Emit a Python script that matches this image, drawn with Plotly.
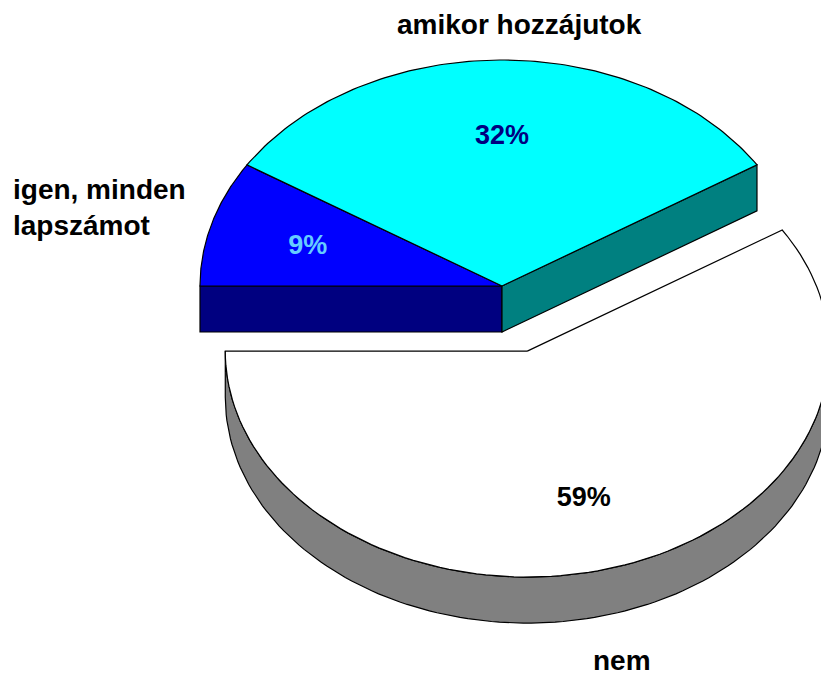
import numpy as np
import plotly.graph_objects as go

# ---- data ----
categories = ["igen, minden lapszámot", "amikor hozzájutok", "nem"]
values = [9, 32, 59]
pct_labels = ["9%", "32%", "59%"]
pull = [0.0, 0.0, 0.3]

# ---- styles ----
top_colors = ["#0000FF", "#00FFFF", "#FFFFFF"]
side_colors = ["#000080", "#008080", "#808080"]
pct_colors = ["#66CCFF", "#000080", "#000000"]

# ---- geometry (pixel space) ----
W, H = 821, 675
CX, CY = 502, 286      # centre of the top face
RX, RY = 302, 226      # ellipse radii
DEPTH = 46             # thickness of the pie
START = 180.0          # first slice starts at the left, goes clockwise
LABEL_R = 0.67
LABEL_DY = 3
FONT = "Liberation Sans, Arial, sans-serif"

total = float(sum(values))
fig = go.Figure()


def arc(cx, cy, a0, a1, dy=0.0, n=120):
    t = np.radians(np.linspace(a0, a1, n))
    return cx + RX * np.cos(t), cy - RY * np.sin(t) + dy


def poly(xs, ys, fill):
    fig.add_trace(go.Scatter(
        x=list(xs) + [xs[0]], y=list(ys) + [ys[0]], mode="lines",
        fill="toself", fillcolor=fill,
        line=dict(color="black", width=1.2),
        hoverinfo="skip", showlegend=False))


angles = []
a = START
for v in values:
    span = 360.0 * v / total
    angles.append((a, a - span))
    a -= span

n = len(values)
for i, (a0, a1) in enumerate(angles):
    mid = np.radians((a0 + a1) / 2)
    cx = CX + pull[i] * RX * np.cos(mid)
    cy = CY - pull[i] * RY * np.sin(mid)

    # radial faces facing the viewer, only at boundaries with exploded neighbours
    prev_i = (i - 1) % n
    next_i = (i + 1) % n
    if pull[prev_i] != pull[i] and np.cos(np.radians(a0)) < 0:
        ex, ey = arc(cx, cy, a0, a0, n=1)
        poly([cx, ex[0], ex[0], cx], [cy, ey[0], ey[0] + DEPTH, cy + DEPTH], side_colors[i])
    if pull[next_i] != pull[i] and np.cos(np.radians(a1)) > 0:
        ex, ey = arc(cx, cy, a1, a1, n=1)
        poly([cx, ex[0], ex[0], cx], [cy, ey[0], ey[0] + DEPTH, cy + DEPTH], side_colors[i])

    # curved outer side: the part of the arc on the front half
    lo, hi = min(a0, a1), max(a0, a1)
    segs = []
    for k in range(-2, 2):
        f0, f1 = 180 + 360 * k, 360 + 360 * k
        s0, s1 = max(lo, f0), min(hi, f1)
        if s1 > s0:
            segs.append((s0, s1))
    for s0, s1 in segs:
        tx, ty = arc(cx, cy, s1, s0)
        bx, by = arc(cx, cy, s0, s1, dy=DEPTH)
        poly(np.concatenate([tx, bx]), np.concatenate([ty, by]), side_colors[i])

    # top face
    tx, ty = arc(cx, cy, a0, a1)
    poly(np.concatenate([[cx], tx]), np.concatenate([[cy], ty]), top_colors[i])

    # percentage label
    fig.add_trace(go.Scatter(
        x=[cx + LABEL_R * RX * np.cos(mid)],
        y=[cy - LABEL_R * RY * np.sin(mid) + LABEL_DY],
        mode="text", text=[pct_labels[i]],
        textfont=dict(family=FONT, size=27, color=pct_colors[i], weight="bold"),
        hoverinfo="skip", showlegend=False))

# category labels
fig.add_annotation(x=11, y=207, text="igen, minden<br>lapszámot", xanchor="left",
                   yanchor="middle", align="left", showarrow=False)
fig.add_annotation(x=519, y=24, text="amikor hozzájutok", xanchor="center",
                   yanchor="middle", showarrow=False)
fig.add_annotation(x=622, y=660, text="nem", xanchor="center",
                   yanchor="middle", showarrow=False)
fig.update_annotations(font=dict(family=FONT, size=28, color="black", weight="bold"))

fig.update_layout(
    width=W, height=H,
    margin=dict(l=0, r=0, t=0, b=0),
    paper_bgcolor="white", plot_bgcolor="white",
    xaxis=dict(range=[0, W], visible=False, fixedrange=True),
    yaxis=dict(range=[H, 0], visible=False, fixedrange=True),
    showlegend=False,
)

fig.write_html("out.html", config={"displayModeBar": False},
               post_script="document.body.style.margin='0';document.body.style.overflow='hidden';")
